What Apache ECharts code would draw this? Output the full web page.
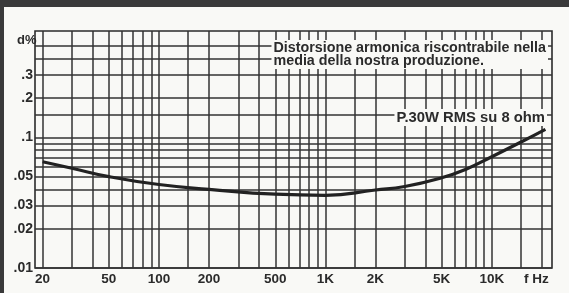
<!DOCTYPE html>
<html>
<head>
<meta charset="utf-8">
<script src="https://cdn.jsdelivr.net/npm/echarts@6/dist/echarts.min.js"></script>
<style>
  html, body { margin: 0; padding: 0; background: #f9f9f6; overflow: hidden; }
  #chart { width: 569px; height: 293px; }
</style>
</head>
<body>
<div id="chart"></div>
<script>
// distortion curve (Hz -> d%)
const freq = [20, 30, 50, 100, 200, 500, 1000, 2000, 3000, 5000, 7000, 10000, 15000, 21000]
const thd = [0.065, 0.058, 0.050, 0.0435, 0.040, 0.0367, 0.036, 0.0395, 0.042, 0.049, 0.057, 0.071, 0.092, 0.115]

// grid paper lines
const xGrid = [20, 30, 40, 50, 60, 70, 80, 90, 100, 150, 200, 300, 400, 500, 600, 700, 800, 900,
  1000, 1500, 2000, 3000, 4000, 5000, 6000, 7000, 8000, 9000, 10000, 15000, 20000]
const yGrid = [0.015, 0.02, 0.03, 0.04, 0.05, 0.06, 0.07, 0.08, 0.09, 0.1, 0.15, 0.2, 0.3, 0.4, 0.5]

// tick labels
const xTickValues = [20, 50, 100, 200, 500, 1000, 2000, 5000, 10000]
const xTickLabels = ['20', '50', '100', '200', '500', '1K', '2K', '5K', '10K']
const yTickValues = [0.01, 0.02, 0.03, 0.05, 0.1, 0.2, 0.3]
const yTickLabels = ['.01', '.02', '.03', '.05', '.1', '.2', '.3']

const ink = '#2b2b2b'
const paper = '#f9f9f6'
const font = 'Liberation Sans, Arial, sans-serif'

// pick the label whose value is closest (log axis hands back floats)
const nearestLabel = (vals, labels, v) => {
  let best = 0
  vals.forEach((t, i) => {
    if (Math.abs(Math.log(t / v)) < Math.abs(Math.log(vals[best] / v))) best = i
  })
  return labels[best]
}

const chart = echarts.init(document.getElementById('chart'))
chart.setOption({
  backgroundColor: paper,
  animation: false,
  grid: {
    left: 35, right: 17, top: 31, bottom: 25,
    show: true,
    borderColor: ink,
    borderWidth: 1.6
  },
  xAxis: {
    type: 'log',
    min: 18,
    max: 23000,
    axisLine: { show: false },
    axisTick: { show: false },
    splitLine: { show: false },
    axisLabel: {
      customValues: xTickValues,
      formatter: v => nearestLabel(xTickValues, xTickLabels, v),
      color: ink,
      fontFamily: font,
      fontWeight: 'bold',
      fontSize: 13.5,
      margin: 4
    }
  },
  yAxis: {
    type: 'log',
    min: 0.01,
    max: 0.65,
    axisLine: { show: false },
    axisTick: { show: false },
    splitLine: { show: false },
    axisLabel: {
      customValues: yTickValues,
      formatter: v => nearestLabel(yTickValues, yTickLabels, v),
      color: ink,
      fontFamily: font,
      fontWeight: 'bold',
      fontSize: 14,
      margin: 2
    }
  },
  series: [
    {
      // grid paper, drawn under the curve
      type: 'line',
      data: [],
      z: 1,
      markLine: {
        silent: true,
        symbol: 'none',
        label: { show: false },
        lineStyle: { color: '#333', width: 1.5, type: 'solid' },
        data: [
          ...xGrid.map(v => ({ xAxis: v })),
          ...yGrid.map(v => ({ yAxis: v }))
        ]
      }
    },
    {
      name: 'd%',
      type: 'line',
      z: 5,
      smooth: 0.5,
      showSymbol: false,
      lineStyle: { color: '#222', width: 3.2 },
      data: freq.map((f, i) => [f, thd[i]])
    }
  ],
  graphic: [
    { type: 'rect', z: 100, shape: { x: 0, y: 0, width: 569, height: 7 }, style: { fill: '#3a3a3a' } },
    { type: 'rect', z: 100, shape: { x: 0, y: 0, width: 4, height: 293 }, style: { fill: '#3a3a3a' } },
    {
      type: 'text', z: 100, left: 17, top: 34,
      style: { text: 'd%', fill: ink, font: 'bold 13px ' + font }
    },
    {
      type: 'text', z: 100, left: 524, top: 272,
      style: { text: 'f Hz', fill: ink, font: 'bold 13.5px ' + font }
    },
    {
      type: 'text', z: 100, right: 21, top: 40,
      style: {
        text: 'Distorsione armonica riscontrabile nella\nmedia della nostra produzione.',
        fill: ink,
        font: 'bold 14.3px ' + font,
        lineHeight: 13.5,
        backgroundColor: paper,
        padding: [1, 2, 1, 2]
      }
    },
    {
      type: 'text', z: 100, right: 22, top: 109,
      style: {
        text: 'P.30W RMS su 8 ohm',
        fill: ink,
        font: 'bold 14.8px ' + font,
        backgroundColor: paper,
        padding: [1, 2, 1, 2]
      }
    }
  ]
})
</script>
</body>
</html>
